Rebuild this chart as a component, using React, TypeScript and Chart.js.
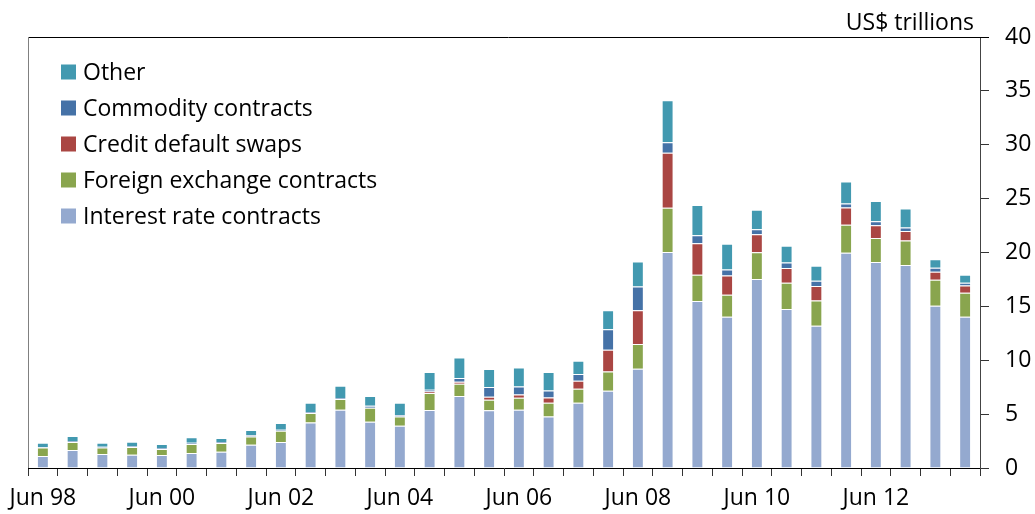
import React, { useEffect, useRef } from 'react';
import { Chart, registerables } from 'chart.js';

Chart.register(...registerables);

const categories = [
  'Jun 98', 'Dec 98', 'Jun 99', 'Dec 99', 'Jun 00', 'Dec 00', 'Jun 01', 'Dec 01',
  'Jun 02', 'Dec 02', 'Jun 03', 'Dec 03', 'Jun 04', 'Dec 04', 'Jun 05', 'Dec 05',
  'Jun 06', 'Dec 06', 'Jun 07', 'Dec 07', 'Jun 08', 'Dec 08', 'Jun 09', 'Dec 09',
  'Jun 10', 'Dec 10', 'Jun 11', 'Dec 11', 'Jun 12', 'Dec 12', 'Jun 13', 'Dec 13',
];

const interestRate = [
  1.11, 1.67, 1.30, 1.23, 1.20, 1.39, 1.51, 2.16,
  2.41, 4.23, 5.41, 4.29, 3.92, 5.38, 6.68, 5.35,
  5.41, 4.79, 6.06, 7.17, 9.21, 20.04, 15.49, 14.04,
  17.53, 14.75, 13.20, 19.97, 19.11, 18.83, 15.06, 14.03,
];
const foreignExchange = [
  0.80, 0.74, 0.61, 0.72, 0.56, 0.83, 0.81, 0.77,
  1.05, 0.87, 0.99, 1.30, 0.87, 1.58, 1.14, 0.99,
  1.11, 1.27, 1.30, 1.79, 2.29, 4.11, 2.44, 2.04,
  2.50, 2.44, 2.35, 2.60, 2.23, 2.29, 2.41, 2.23,
];
const creditDefaultSwaps = [
  0, 0, 0, 0, 0, 0, 0, 0,
  0, 0, 0, 0, 0, 0.15, 0.19, 0.28,
  0.31, 0.49, 0.74, 2.01, 3.15, 5.10, 2.94, 1.79,
  1.67, 1.36, 1.33, 1.61, 1.18, 0.87, 0.74, 0.68,
];
const commodity = [
  0.05, 0.10, 0.07, 0.07, 0.10, 0.12, 0.10, 0.12,
  0.10, 0.09, 0.09, 0.19, 0.12, 0.15, 0.34, 0.90,
  0.74, 0.65, 0.62, 1.91, 2.19, 0.99, 0.74, 0.56,
  0.46, 0.53, 0.49, 0.37, 0.37, 0.34, 0.37, 0.25,
];
const other = [
  0.39, 0.45, 0.37, 0.42, 0.36, 0.52, 0.36, 0.47,
  0.61, 0.87, 1.14, 0.90, 1.15, 1.64, 1.91, 1.67,
  1.76, 1.70, 1.23, 1.77, 2.32, 3.90, 2.79, 2.38,
  1.80, 1.55, 1.40, 2.04, 1.89, 1.76, 0.80, 0.74,
];

const yTicks = [0, 5, 10, 15, 20, 25, 30, 35, 40];
const unitLabel = 'US$ trillions';

const colors = {
  interestRate: '#94a9cf',
  foreignExchange: '#89a54e',
  creditDefaultSwaps: '#aa4643',
  commodity: '#4572a7',
  other: '#4299b0',
};

const legendItems = [
  { label: 'Other', color: colors.other },
  { label: 'Commodity contracts', color: colors.commodity },
  { label: 'Credit default swaps', color: colors.creditDefaultSwaps },
  { label: 'Foreign exchange contracts', color: colors.foreignExchange },
  { label: 'Interest rate contracts', color: colors.interestRate },
];

const FONT = '"Open Sans", "DejaVu Sans", sans-serif';

const framePlugin = {
  id: 'frameAndLegend',
  afterDraw(chart: any) {
    const { ctx, chartArea: a } = chart;
    ctx.save();
    ctx.lineWidth = 1;
    ctx.strokeStyle = '#000';
    ctx.beginPath();
    ctx.moveTo(a.left, Math.round(a.top) + 0.5);
    ctx.lineTo(a.right + 9, Math.round(a.top) + 0.5);
    ctx.stroke();
    ctx.strokeStyle = '#808080';
    ctx.beginPath();
    ctx.moveTo(Math.round(a.left) + 0.5, a.top);
    ctx.lineTo(Math.round(a.left) + 0.5, a.bottom);
    ctx.stroke();

    ctx.fillStyle = '#000';
    ctx.font = `23px ${FONT}`;
    ctx.textAlign = 'right';
    ctx.textBaseline = 'alphabetic';
    ctx.fillText(unitLabel, a.right - 6, 30);

    ctx.textAlign = 'left';
    ctx.textBaseline = 'middle';
    legendItems.forEach((item, i) => {
      const cy = 72 + i * 36;
      ctx.fillStyle = item.color;
      ctx.fillRect(61, cy - 7.5, 15, 15);
      ctx.fillStyle = '#000';
      ctx.fillText(item.label, 83, cy + 1);
    });
    ctx.restore();
  },
};

export default function App() {
  const ref = useRef<HTMLCanvasElement | null>(null);

  useEffect(() => {
    document.body.style.margin = '0';
    const canvas = ref.current;
    if (!canvas) return;
    const mk = (label: string, data: number[], color: string) => ({
      label,
      data,
      backgroundColor: color,
      borderColor: 'rgba(255,255,255,0.45)',
      borderWidth: 1,
      barPercentage: 0.4,
      categoryPercentage: 1,
    });
    const chart = new Chart(canvas, {
      type: 'bar',
      data: {
        labels: categories,
        datasets: [
          mk('Interest rate contracts', interestRate, colors.interestRate),
          mk('Foreign exchange contracts', foreignExchange, colors.foreignExchange),
          mk('Credit default swaps', creditDefaultSwaps, colors.creditDefaultSwaps),
          mk('Commodity contracts', commodity, colors.commodity),
          mk('Other', other, colors.other),
        ],
      },
      options: {
        responsive: false,
        animation: false,
        layout: { padding: { left: 28, top: 37, right: 0, bottom: 0 } },
        plugins: { legend: { display: false }, tooltip: { enabled: false } },
        scales: {
          x: {
            stacked: true,
            offset: true,
            afterFit: (s: any) => { s.height = 46; },
            grid: {
              display: true,
              offset: true,
              drawOnChartArea: false,
              drawTicks: true,
              tickLength: 8,
              color: '#333',
            },
            border: { display: true, color: '#000', width: 1 },
            ticks: {
              autoSkip: false,
              maxRotation: 0,
              minRotation: 0,
              padding: 9,
              color: '#000',
              font: { family: FONT, size: 23 },
              callback: (_v: any, i: number) => (i % 4 === 0 ? categories[i] : ''),
            },
          },
          y: {
            stacked: true,
            position: 'right',
            min: 0,
            max: 40,
            afterFit: (s: any) => { s.width = 55; },
            afterBuildTicks: (s: any) => { s.ticks = yTicks.map((v) => ({ value: v })); },
            grid: {
              display: true,
              drawOnChartArea: false,
              drawTicks: true,
              tickLength: 9,
              color: '#333',
            },
            border: { display: true, color: '#444', width: 1 },
            ticks: {
              padding: 16,
              color: '#000',
              crossAlign: 'near',
              font: { family: FONT, size: 23 },
            },
          },
        },
      },
      plugins: [framePlugin],
    } as any);
    return () => chart.destroy();
  }, []);

  return (
    <div style={{ width: 1035, height: 514 }}>
      <canvas ref={ref} width={1035} height={514} />
    </div>
  );
}
